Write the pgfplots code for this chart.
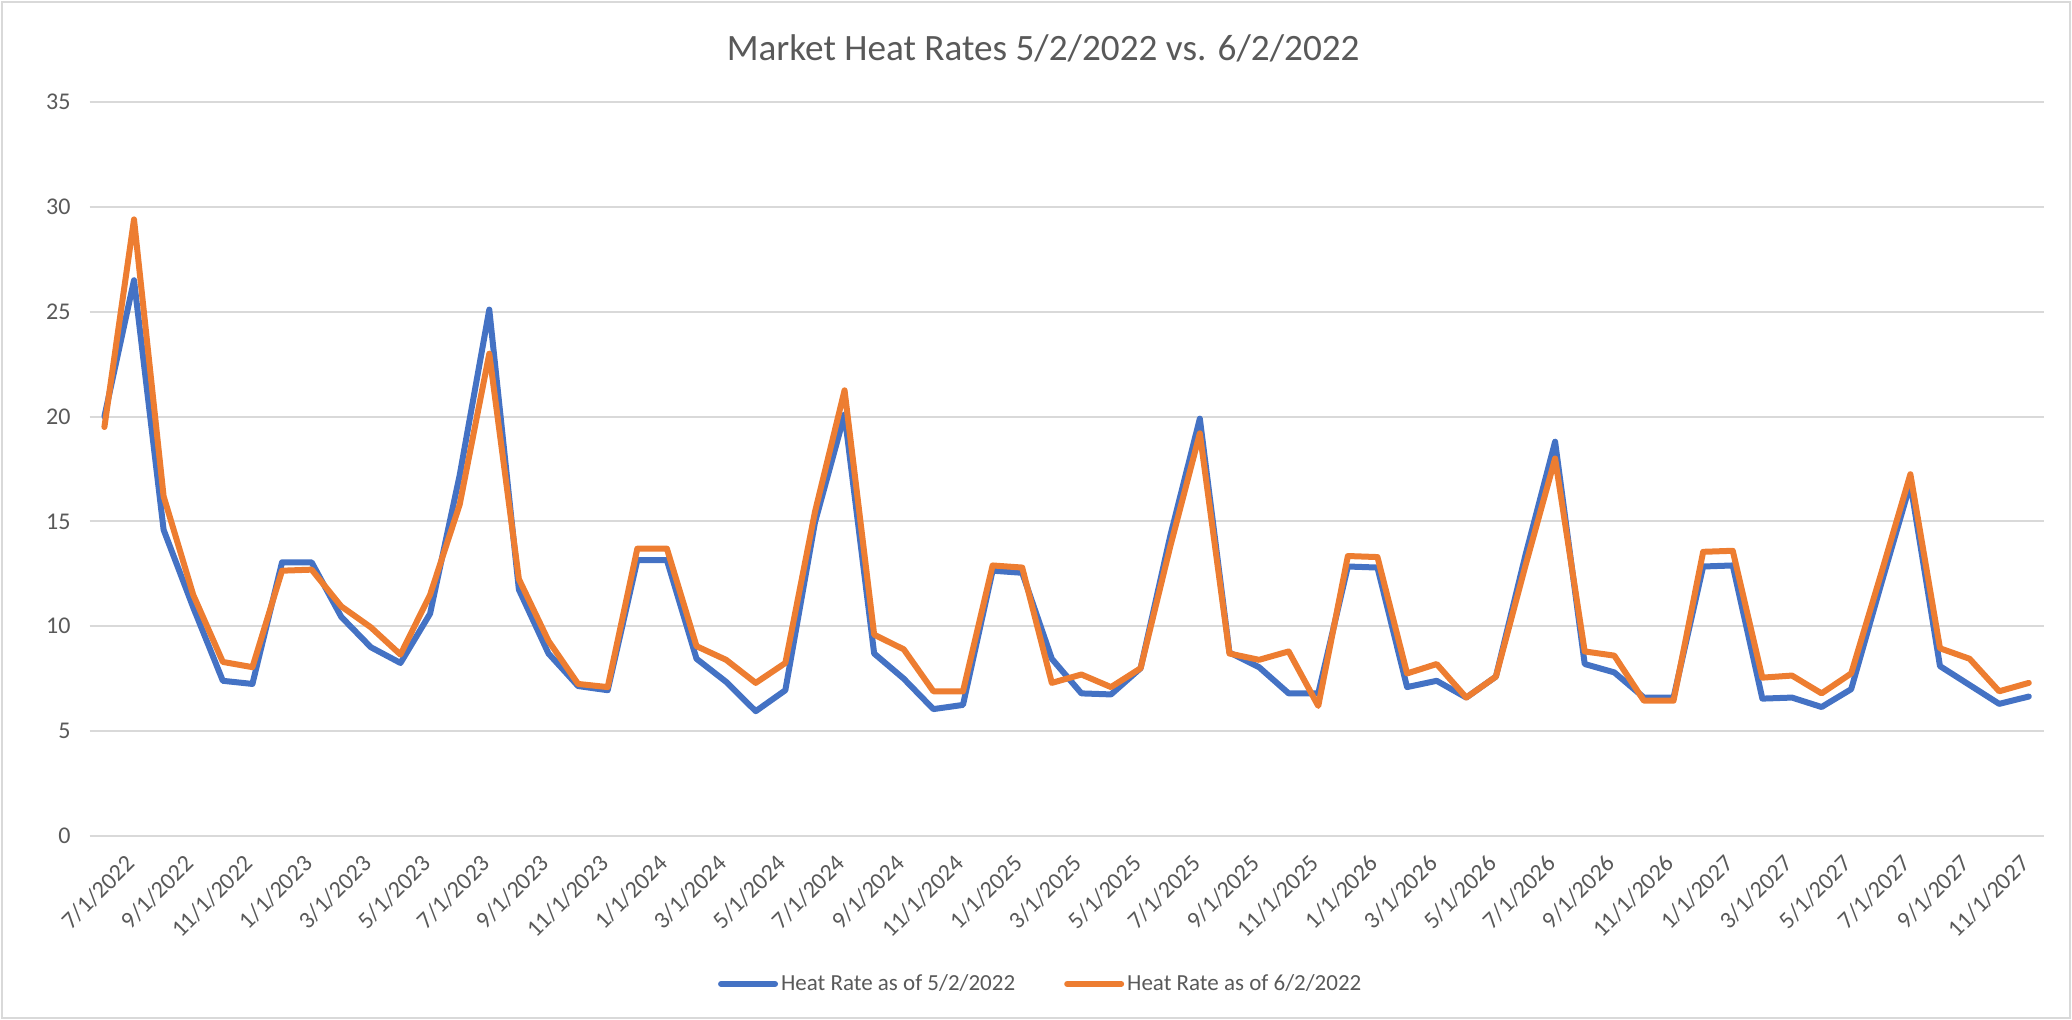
\documentclass[border=0pt]{standalone}
\usepackage{pgfplots}
\usepackage{pgfplotstable}
\pgfplotsset{compat=1.18}
\usepackage{fontspec}
\setmainfont{Carlito}
\definecolor{blueS}{HTML}{4472C4}
\definecolor{orangeS}{HTML}{ED7D31}
\definecolor{gridc}{HTML}{D9D9D9}
\definecolor{txt}{HTML}{595959}
\pgfplotstableread{
i b o
0 20.0 19.5
1 26.5 29.4
2 14.6 16.2
3 10.9 11.5
4 7.4 8.3
5 7.25 8.05
6 13.05 12.65
7 13.05 12.7
8 10.45 10.95
9 9.0 9.95
10 8.25 8.65
11 10.6 11.5
12 17.2 15.8
13 25.1 23.0
14 11.75 12.25
15 8.7 9.3
16 7.15 7.25
17 6.95 7.1
18 13.15 13.7
19 13.15 13.7
20 8.45 9.05
21 7.35 8.4
22 5.95 7.3
23 6.95 8.25
24 14.95 15.45
25 20.1 21.25
26 8.7 9.6
27 7.5 8.9
28 6.05 6.9
29 6.25 6.9
30 12.65 12.9
31 12.55 12.8
32 8.45 7.3
33 6.8 7.7
34 6.75 7.1
35 8.0 8.0
36 14.3 13.8
37 19.9 19.2
38 8.75 8.7
39 8.05 8.4
40 6.8 8.8
41 6.8 6.2
42 12.85 13.35
43 12.8 13.3
44 7.1 7.75
45 7.4 8.2
46 6.6 6.6
47 7.6 7.6
48 13.4 12.9
49 18.8 18.0
50 8.2 8.8
51 7.8 8.6
52 6.6 6.45
53 6.6 6.45
54 12.85 13.55
55 12.9 13.6
56 6.55 7.55
57 6.6 7.65
58 6.15 6.8
59 7.0 7.75
60 11.95 12.45
61 16.8 17.25
62 8.1 8.95
63 7.2 8.45
64 6.3 6.9
65 6.65 7.3
}\data
\begin{document}
\begin{tikzpicture}
\useasboundingbox (-44.8pt,-92pt) rectangle (991.2pt,418pt);
\draw[gridc, line width=1pt] (-43.8pt,-91pt) rectangle (990.2pt,417pt);
\begin{axis}[
  at={(0,0)}, anchor=south west,
  scale only axis,
  width=977pt, height=367pt,
  xmin=-0.5, xmax=65.5,
  ymin=0, ymax=35,
  ytick={0,5,...,35},
  xtick={0,2,...,64},
  xticklabels={7/1/2022,9/1/2022,11/1/2022,1/1/2023,3/1/2023,5/1/2023,7/1/2023,9/1/2023,11/1/2023,1/1/2024,3/1/2024,5/1/2024,7/1/2024,9/1/2024,11/1/2024,1/1/2025,3/1/2025,5/1/2025,7/1/2025,9/1/2025,11/1/2025,1/1/2026,3/1/2026,5/1/2026,7/1/2026,9/1/2026,11/1/2026,1/1/2027,3/1/2027,5/1/2027,7/1/2027,9/1/2027,11/1/2027},
  axis line style={draw=none},
  major tick length=0pt,
  ymajorgrids,
  grid style={gridc, line width=1pt},
  /pgf/number format/assume math mode=true,
  tick label style={font=\fontsize{12}{14}\selectfont, text=txt},
  yticklabel style={xshift=-6pt},
  xticklabel style={rotate=45, anchor=north east, inner sep=1pt, xshift=2pt, yshift=-12pt},
  title={Market Heat Rates 5/2/2022 vs. 6/2/2022},
  title style={at={(rel axis cs:0.488,1)}, anchor=center, yshift=21pt, font=\fontsize{18.6}{21}\selectfont, text=txt},
  legend columns=2,
  legend style={at={(rel axis cs:0.487,0)}, anchor=center, yshift=-74pt, draw=none, fill=none,
    font=\fontsize{11.5}{14}\selectfont, text=txt,
    nodes={inner sep=1.5pt},
    /tikz/every even column/.append style={column sep=23pt}},
  legend image code/.code={\draw[#1, line width=3pt, line cap=round] (0pt,0pt) -- (27pt,0pt);},
]
\addplot[blueS, line width=3pt, line join=round, line cap=round] table[x=i, y=b] {\data};
\addlegendentry{Heat Rate as of 5/2/2022}
\addplot[orangeS, line width=3pt, line join=round, line cap=round] table[x=i, y=o] {\data};
\addlegendentry{Heat Rate as of 6/2/2022}
\end{axis}
\end{tikzpicture}
\end{document}
